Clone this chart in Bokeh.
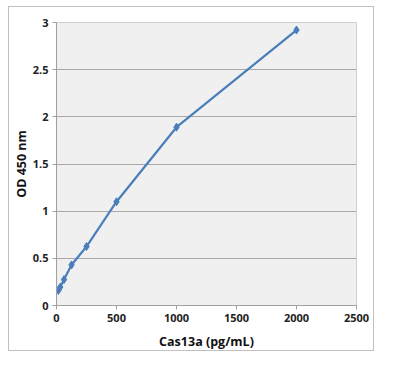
from bokeh.plotting import figure
from bokeh.embed import file_html
from bokeh.resources import INLINE
from bokeh.models import FixedTicker, Range1d

concentration = [15.6, 31.25, 62.5, 125, 250, 500, 1000, 2000]
od450 = [0.16, 0.195, 0.275, 0.43, 0.625, 1.10, 1.89, 2.92]
x_ticks = [0, 500, 1000, 1500, 2000, 2500]
y_ticks = [0, 0.5, 1, 1.5, 2, 2.5, 3]

FONT = "Open Sans"

p = figure(width=366, height=345, output_backend="svg", toolbar_location=None,
           x_range=Range1d(0, 2500), y_range=Range1d(0, 3),
           min_border_left=38, min_border_right=19, min_border_top=15, min_border_bottom=47)
p.styles = {"border": "1px solid #c0c0c0", "margin-left": "8px", "margin-top": "6px"}
p.background_fill_color = "#f0f0f0"
p.border_fill_color = "white"
p.outline_line_color = "#d0d0d0"

p.line(concentration, od450, line_color="#4a7ebb", line_width=2.2)
p.scatter(concentration, od450, marker="diamond", size=8, color="#4a7ebb")

p.xaxis.ticker = FixedTicker(ticks=x_ticks)
p.yaxis.ticker = FixedTicker(ticks=y_ticks)
p.yaxis.major_label_overrides = {0: "0", 0.5: "0.5", 1: "1", 1.5: "1.5", 2: "2", 2.5: "2.5", 3: "3"}
p.xgrid.grid_line_color = None
p.ygrid.grid_line_color = "#a8a8a8"
p.ygrid.grid_line_width = 1

for ax in (p.xaxis, p.yaxis):
    ax.axis_line_color = "#a0a0a0"
    ax.major_tick_line_color = "#a0a0a0"
    ax.minor_tick_line_color = None
    ax.major_tick_out = 4
    ax.major_tick_in = 0
    ax.major_label_standoff = 4
    ax.major_label_text_font = FONT
    ax.major_label_text_font_style = "bold"
    ax.major_label_text_font_size = "11px"
    ax.major_label_text_color = "#222222"
    ax.axis_label_text_font = FONT
    ax.axis_label_text_font_style = "bold"
    ax.axis_label_text_font_size = "12.5px"
    ax.axis_label_text_color = "#111111"

p.xaxis.axis_label = "Cas13a (pg/mL)"
p.yaxis.axis_label = "OD 450 nm"
p.xaxis.axis_label_standoff = 8
p.yaxis.axis_label_standoff = 0

open("out.html", "w").write(file_html(p, INLINE))
